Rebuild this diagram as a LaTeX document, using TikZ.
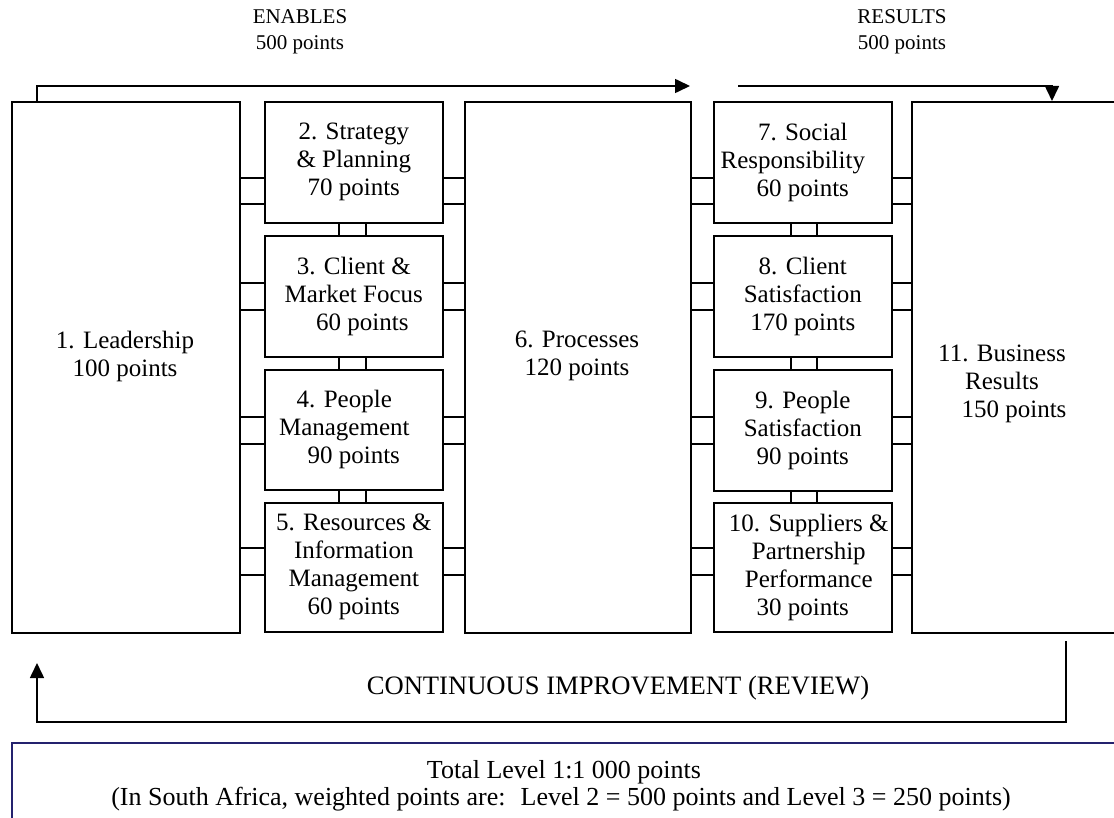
\documentclass[tikz,border=0pt]{standalone}
\usepackage{fontspec}
\setmainfont{Liberation Serif}
\usetikzlibrary{arrows.meta}
\definecolor{navyline}{RGB}{36,34,110}
\begin{document}
\begin{tikzpicture}[x=1pt,y=-1pt,
  box/.style={draw=black,line width=1.6pt,anchor=north west,inner sep=0pt,
    align=center,font=\fontsize{25}{28}\selectfont},
  sbox/.style={box,minimum width=178pt},
  txt/.style={inner sep=0pt,align=center,font=\fontsize{25}{28}\selectfont},
  toplab/.style={inner sep=0pt,align=center,font=\fontsize{21}{26}\selectfont},
  conn/.style={line width=1.6pt},
  arr/.style={line width=1.6pt,-{Triangle[length=15pt,width=14pt]}}]
\useasboundingbox (0,0) rectangle (1114,818);
\clip (0,0) rectangle (1114,818);

% big boxes
\node[box,minimum width=228pt,minimum height=531pt] (b1) at (11,101) {};
\node[box,minimum width=226pt,minimum height=531pt] (b6) at (464,101) {};
\node[box,minimum width=230pt,minimum height=531pt] (b11) at (911,101) {};
\node[txt] (t1) at (125,356) {1. Leadership\\100 points};
\node[txt] (t6) at (577,356) {6. Processes\\120 points};
\node[txt] (t11) at (1002,384) {11. Business\\Results\\\hspace*{24pt}150 points};

% enabler column
\node[sbox,minimum height=121pt] (b2) at (264,101) {2. Strategy\\\& Planning\\70 points};
\node[sbox,minimum height=121pt] (b3) at (264,235) {3. Client \&\\Market Focus\\\hspace*{17pt}60 points};
\node[sbox,minimum height=120pt] (b4) at (264,369) {\hspace*{-19pt}4. People\\\hspace*{-19pt}Management\\90 points};
\node[sbox,minimum height=129pt] (b5) at (264,502) {5. Resources \&\\Information\\Management\\60 points};

% results column
\node[sbox,minimum height=121pt] (b7) at (713,101) {7. Social\\\hspace*{-20pt}Responsibility\\60 points};
\node[sbox,minimum height=121pt] (b8) at (713,235) {8. Client\\Satisfaction\\170 points};
\node[sbox,minimum height=121pt] (b9) at (713,369) {9. People\\Satisfaction\\90 points};
\node[sbox,minimum height=129pt] (b10) at (713,502) {\hspace*{12pt}10. Suppliers \&\\\hspace*{12pt}Partnership\\\hspace*{12pt}Performance\\30 points};

% horizontal connectors
\foreach \b/\c/\ya/\yb in {b2/b7/178/204, b3/b8/283/310, b4/b9/417/444, b5/b10/548/575} {
  \foreach \yy in {\ya,\yb} {
    \draw[conn] (b1.east |- 0,\yy) -- (\b.west |- 0,\yy);
    \draw[conn] (\b.east |- 0,\yy) -- (b6.west |- 0,\yy);
    \draw[conn] (b6.east |- 0,\yy) -- (\c.west |- 0,\yy);
    \draw[conn] (\c.east |- 0,\yy) -- (b11.west |- 0,\yy);
  }
}
% vertical connectors
\foreach \u/\l in {b2/b3, b3/b4, b4/b5} {
  \draw[conn] (339,0 |- \u.south) -- (339,0 |- \l.north);
  \draw[conn] (366,0 |- \u.south) -- (366,0 |- \l.north);
}
\foreach \u/\l in {b7/b8, b8/b9, b9/b10} {
  \draw[conn] (791,0 |- \u.south) -- (791,0 |- \l.north);
  \draw[conn] (817,0 |- \u.south) -- (817,0 |- \l.north);
}

% top labels and arrows
\node[toplab] (enab) at (300,32) {ENABLES\\500 points};
\node[toplab] (resu) at (902,32) {RESULTS\\500 points};
\coordinate (a1e) at (690,86);
\coordinate (a2s) at (738,86);
\draw[arr] (37,0 |- b1.north) |- (a1e);
\draw[arr] (a2s) -| (1052,0 |- b11.north);

% continuous improvement loop
\coordinate (a3s) at (1066,641);
\coordinate (a3e) at (37,663);
\draw[arr] (a3s) -- (1066,722) -| (a3e);
\node[txt,font=\fontsize{26.6}{30}\selectfont] (ci) at (618,688) {CONTINUOUS IMPROVEMENT (REVIEW)};

% bottom total box
\node[draw=navyline,line width=1.6pt,anchor=north west,inner sep=0pt,
  minimum width=1130pt,minimum height=110pt] (tot) at (11,742) {};
\node[txt,font=\fontsize{26}{30}\selectfont] (tl1) at (564,772) {Total Level 1:1 000 points};
\node[txt,font=\fontsize{26}{30}\selectfont] (tl2) at (561,799) {(In South Africa, weighted points are:~ Level 2 = 500 points and Level 3 = 250 points)};
\end{tikzpicture}
\end{document}
